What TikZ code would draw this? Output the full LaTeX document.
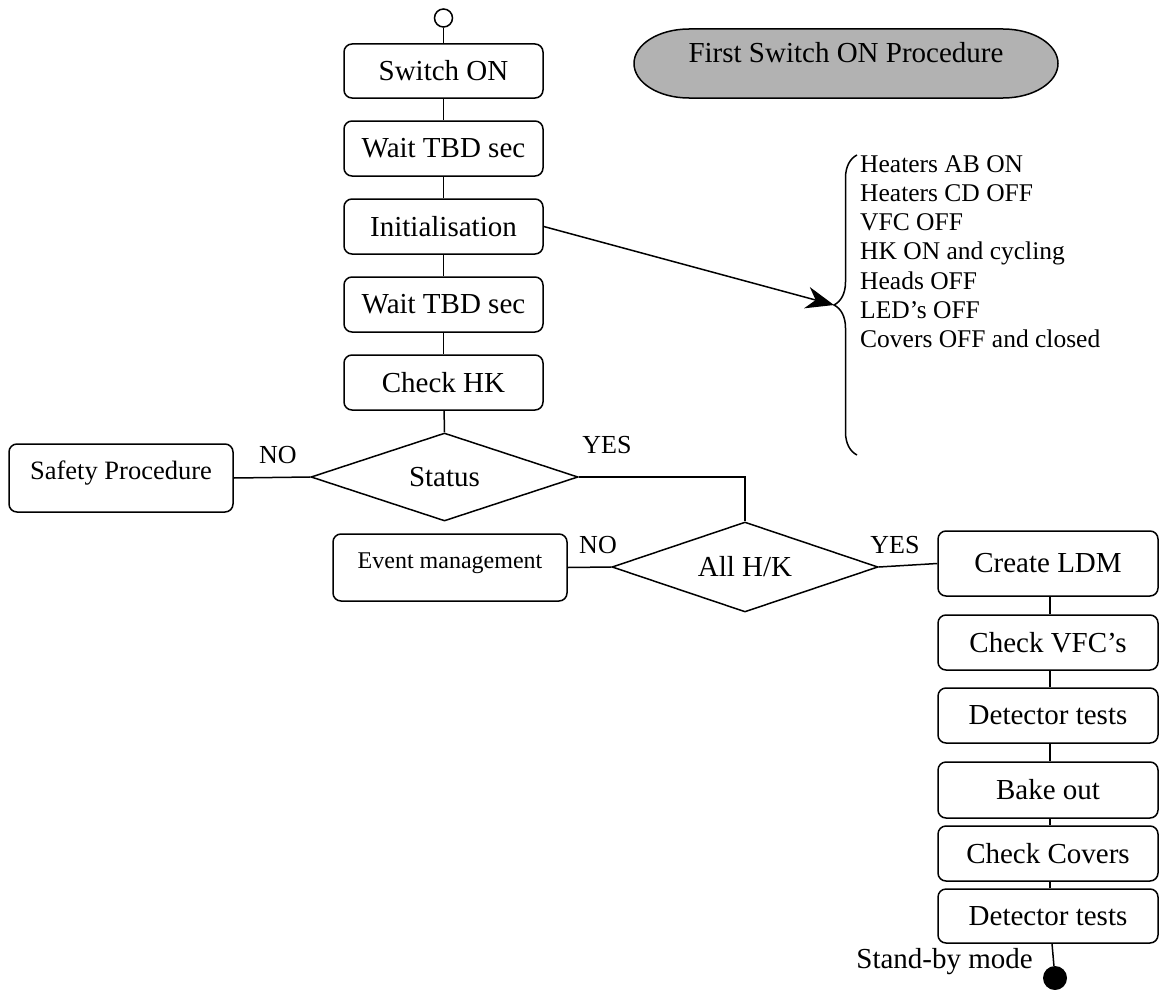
\documentclass[tikz,border=0pt]{standalone}
\usepackage{fontspec}
\setmainfont{Liberation Serif}
\usetikzlibrary{shapes.geometric,arrows.meta,decorations.pathreplacing}
\tikzset{
  box/.style={draw, line width=1.5pt, rounded corners=8pt, inner sep=0pt,
    minimum width=199pt, minimum height=55pt, font=\fontsize{29}{34}\selectfont},
  rbox/.style={box, minimum width=220pt},
  decision/.style={draw, line width=1.5pt, diamond, aspect=3, inner sep=0pt,
    font=\fontsize{29}{34}\selectfont},
  lbl/.style={inner sep=0pt, font=\fontsize{26}{31}\selectfont},
  conn/.style={line width=1.5pt},
}
\begin{document}
\begin{tikzpicture}[x=1pt,y=-1pt]
\useasboundingbox (0,0) rectangle (1159,990);

% title
\fill[black!30] (689,29) -- (1003,29) .. controls (1033.4,29) and (1058,44.4) .. (1058,63.5)
  .. controls (1058,82.6) and (1033.4,98) .. (1003,98) -- (689,98)
  .. controls (658.6,98) and (634,82.6) .. (634,63.5)
  .. controls (634,44.4) and (658.6,29) .. (689,29) -- cycle;
\draw[line width=1.5pt] (689,29) -- (1003,29) .. controls (1033.4,29) and (1058,44.4) .. (1058,63.5)
  .. controls (1058,82.6) and (1033.4,98) .. (1003,98) -- (689,98)
  .. controls (658.6,98) and (634,82.6) .. (634,63.5)
  .. controls (634,44.4) and (658.6,29) .. (689,29) -- cycle;
\node[inner sep=0pt, font=\fontsize{29}{34}\selectfont] (title) at (846,53) {First Switch ON Procedure};

% start
\node[draw, circle, line width=1.5pt, minimum size=18pt, inner sep=0pt] (start) at (443.5,18) {};

% left column
\node[box, minimum height=54pt] (s1) at (443.5,71) {Switch ON};
\node[box] (s2) at (443.5,148.5) {Wait TBD sec};
\node[box] (s3) at (443.5,226.5) {Initialisation};
\node[box] (s4) at (443.5,304.5) {Wait TBD sec};
\node[box] (s5) at (443.5,382.5) {Check HK};

\node[decision, minimum width=267pt, minimum height=88pt] (status) at (444.5,477) {Status};
\node[box, minimum width=224pt, minimum height=68pt, text height=18pt, text depth=16pt,
  font=\fontsize{26.5}{31}\selectfont] (safety) at (121,478) {Safety Procedure};

\node[decision, minimum width=266pt, minimum height=90pt] (allhk) at (745,567) {All H/K};
\node[box, minimum width=234pt, minimum height=67pt, text height=17pt, text depth=15pt,
  font=\fontsize{24}{29}\selectfont] (event) at (450,567.5) {Event management};

% right column
\node[rbox, minimum height=65pt] (ldm) at (1048,563.5) {Create LDM};
\node[rbox] (vfc) at (1048,642.5) {Check VFC’s};
\node[rbox] (det1) at (1048,715.5) {Detector tests};
\node[rbox, minimum height=56pt] (bake) at (1048,790) {Bake out};
\node[rbox] (cov) at (1048,853.5) {Check Covers};
\node[rbox, minimum height=54pt] (det2) at (1048,916) {Detector tests};

\node[fill, circle, minimum size=24pt, inner sep=0pt] (stop) at (1055,978) {};
\node[anchor=base east, inner sep=0pt, font=\fontsize{29}{34}\selectfont] (standby) at (1033,968) {Stand-by mode};

% brace and list
\coordinate (bt) at (857,155);
\coordinate (bb) at (857,455);
\coordinate (btip) at (834,305);
\draw[line width=1.5pt, decorate, decoration={brace, amplitude=23pt}] (bb) -- (bt);
\node[anchor=north west, inner sep=0pt, align=left, font=\fontsize{25.5}{29.3}\selectfont] (list) at (860,155)
  {Heaters AB ON\\Heaters CD OFF\\VFC OFF\\HK ON and cycling\\Heads OFF\\LED’s OFF\\Covers OFF and closed};

% connectors
\draw[conn] (start) -- (s1);
\draw[conn] (s1) -- (s2);
\draw[conn] (s2) -- (s3);
\draw[conn] (s3) -- (s4);
\draw[conn] (s4) -- (s5);
\draw[conn] (s5) -- (status.north);
\draw[conn] (status.west) -- (safety.east);
\draw[conn] (status.east) -| (allhk.north);
\draw[conn] (allhk.west) -- (event.east);
\draw[conn] (allhk.east) -- (ldm.west);
\draw[conn] ([xshift=2pt]ldm.south) -- ([xshift=2pt]vfc.north);
\draw[conn] ([xshift=2pt]vfc.south) -- ([xshift=2pt]det1.north);
\draw[conn] ([xshift=2pt]det1.south) -- ([xshift=2pt]bake.north);
\draw[conn] ([xshift=2pt]bake.south) -- ([xshift=2pt]cov.north);
\draw[conn] ([xshift=2pt]cov.south) -- ([xshift=2pt]det2.north);
\draw[conn] ([xshift=4pt]det2.south) -- (stop);
\draw[conn, -{Stealth[length=28pt, width=22pt, inset=9pt]}] (s3.east) -- (btip);

% labels
\node[lbl] (no1) at (278,455) {NO};
\node[lbl] (yes1) at (607,445) {YES};
\node[lbl] (no2) at (598,545) {NO};
\node[lbl] (yes2) at (895,545) {YES};
\end{tikzpicture}
\end{document}
